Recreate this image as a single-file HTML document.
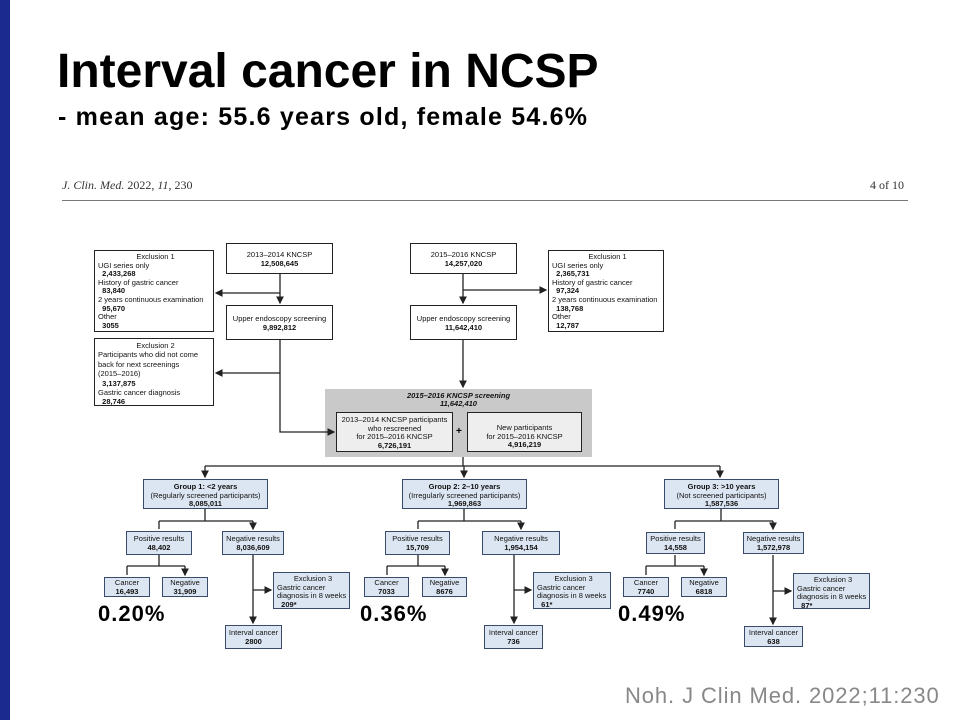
<!DOCTYPE html>
<html><head><meta charset="utf-8">
<style>
body{margin:0;width:960px;height:720px;background:#fff;position:relative;overflow:hidden;font-family:"Liberation Sans",sans-serif}
.bar{position:absolute;left:0;top:0;width:10px;height:720px;background:#1b2a8f}
.t{position:absolute;white-space:nowrap;color:#000}
.b{position:absolute;box-sizing:border-box;border:1.3px solid #222;background:#fff;font-size:7.5px;line-height:8.6px;color:#111;text-align:center;padding-top:2px}
.bl{background:#dce6f2;border-color:#3a4a6a}
.l{text-align:left;padding-left:3px}
.n{font-weight:bold}
.pct{position:absolute;font-weight:bold;font-size:22px;letter-spacing:1px;color:#000}
</style></head><body>
<div class="bar"></div>
<div class="t" style="left:57px;top:44px;font-size:48px;font-weight:bold;letter-spacing:0px">Interval cancer in NCSP</div>
<div class="t" style="left:58px;top:103px;font-size:25px;font-weight:bold;letter-spacing:1.2px">- mean age: 55.6 years old, female 54.6%</div>
<div class="t" style="left:62px;top:178px;font-family:'Liberation Serif',serif;font-size:12px;color:#333"><i>J. Clin. Med.</i> 2022, <i>11</i>, 230</div>
<div class="t" style="left:870px;top:178px;font-family:'Liberation Serif',serif;font-size:12px;color:#333">4 of 10</div>
<div style="position:absolute;left:62px;top:200px;width:846px;height:1px;background:#777"></div>

<div style="position:absolute;left:325px;top:389px;width:267px;height:68px;background:#c9c9c9"></div>

<svg width="960" height="720" style="position:absolute;left:0;top:0">
<defs><marker id="a" markerWidth="6" markerHeight="6" refX="5" refY="3" orient="auto"><path d="M0,0L6,3L0,6z" fill="#222"/></marker></defs>
<g stroke="#222" stroke-width="1.3" fill="none">
<path d="M280,274V303" marker-end="url(#a)"/><path d="M280,293H216" marker-end="url(#a)"/>
<path d="M280,340V432H334" marker-end="url(#a)"/><path d="M280,373H216" marker-end="url(#a)"/>
<path d="M463,274V303" marker-end="url(#a)"/><path d="M463,290H546" marker-end="url(#a)"/>
<path d="M463,340V387" marker-end="url(#a)"/>
<path d="M463,457V466"/><path d="M205,466H720"/>
<path d="M205,466V477" marker-end="url(#a)"/><path d="M464,466V477" marker-end="url(#a)"/><path d="M720,466V477" marker-end="url(#a)"/>
<path d="M205,509V521M159,521H253M159,521V529M253,521V529" marker-end="url(#a)"/>
<path d="M159,555V566M127,566H185M127,566V575M185,566V575" marker-end="url(#a)"/>
<path d="M253,555V623" marker-end="url(#a)"/><path d="M253,590H271" marker-end="url(#a)"/>
<path d="M464,509V521M418,521H521M418,521V529M521,521V529" marker-end="url(#a)"/>
<path d="M418,555V566M387,566H445M387,566V575M445,566V575" marker-end="url(#a)"/>
<path d="M514,555V623" marker-end="url(#a)"/><path d="M514,590H531" marker-end="url(#a)"/>
<path d="M721,509V521M675,521H773M675,521V529M773,521V529" marker-end="url(#a)"/>
<path d="M675,555V566M646,566H704M646,566V575M704,566V575" marker-end="url(#a)"/>
<path d="M773,555V624" marker-end="url(#a)"/><path d="M773,591H791" marker-end="url(#a)"/>
</g></svg>

<div class="b l" style="left:94px;top:250px;width:120px;height:82px"><div style="text-align:center">Exclusion 1</div>UGI series only<br><span class="n">&nbsp;&nbsp;2,433,268</span><br>History of gastric cancer<br><span class="n">&nbsp;&nbsp;83,840</span><br>2 years continuous examination<br><span class="n">&nbsp;&nbsp;95,670</span><br>Other<br><span class="n">&nbsp;&nbsp;3055</span></div>
<div class="b" style="left:226px;top:243px;width:107px;height:31px;padding-top:7px">2013–2014 KNCSP<br><span class="n">12,508,645</span></div>
<div class="b" style="left:226px;top:305px;width:107px;height:35px;padding-top:9px">Upper endoscopy screening<br><span class="n">9,892,812</span></div>
<div class="b l" style="left:94px;top:338px;width:120px;height:68px;line-height:9.4px"><div style="text-align:center">Exclusion 2</div>Participants who did not come<br>back for next screenings<br>(2015–2016)<br><span class="n">&nbsp;&nbsp;3,137,875</span><br>Gastric cancer diagnosis<br><span class="n">&nbsp;&nbsp;28,746</span></div>
<div class="b" style="left:410px;top:243px;width:107px;height:31px;padding-top:7px">2015–2016 KNCSP<br><span class="n">14,257,020</span></div>
<div class="b" style="left:410px;top:305px;width:107px;height:35px;padding-top:9px">Upper endoscopy screening<br><span class="n">11,642,410</span></div>
<div class="b l" style="left:548px;top:250px;width:116px;height:82px"><div style="text-align:center">Exclusion 1</div>UGI series only<br><span class="n">&nbsp;&nbsp;2,365,731</span><br>History of gastric cancer<br><span class="n">&nbsp;&nbsp;97,324</span><br>2 years continuous examination<br><span class="n">&nbsp;&nbsp;138,768</span><br>Other<br><span class="n">&nbsp;&nbsp;12,787</span></div>

<div class="t n" style="left:325px;top:392px;width:267px;text-align:center;font-size:7.5px;line-height:8.4px;font-style:italic;color:#111">2015–2016 KNCSP screening<br>11,642,410</div>
<div class="t" style="left:456px;top:426px;font-size:10px;font-weight:bold">+</div>
<div class="b" style="left:336px;top:412px;width:117px;height:40px;background:#eee;padding-top:3px">2013–2014 KNCSP participants<br>who rescreened<br>for 2015–2016 KNCSP<br><span class="n">6,726,191</span></div>
<div class="b" style="left:467px;top:412px;width:115px;height:40px;background:#eee;padding-top:11px">New participants<br>for 2015–2016 KNCSP<br><span class="n">4,916,219</span></div>

<div class="b bl" style="left:143px;top:479px;width:125px;height:30px;padding-top:3px"><span class="n">Group 1: &lt;2 years</span><br>(Regularly screened participants)<br><span class="n">8,085,011</span></div>
<div class="b bl" style="left:126px;top:531px;width:66px;height:24px;padding-top:3px">Positive results<br><span class="n">48,402</span></div>
<div class="b bl" style="left:222px;top:531px;width:62px;height:24px;padding-top:3px">Negative results<br><span class="n">8,036,609</span></div>
<div class="b bl" style="left:104px;top:577px;width:46px;height:20px;padding-top:1px">Cancer<br><span class="n">16,493</span></div>
<div class="b bl" style="left:162px;top:577px;width:46px;height:20px;padding-top:1px">Negative<br><span class="n">31,909</span></div>
<div class="b bl l" style="left:273px;top:572px;width:77px;height:37px"><div style="text-align:center">Exclusion 3</div>Gastric cancer<br>diagnosis in 8 weeks<br><span class="n">&nbsp;&nbsp;209*</span></div>
<div class="b bl" style="left:225px;top:625px;width:57px;height:24px;padding-top:3px">Interval cancer<br><span class="n">2800</span></div>

<div class="b bl" style="left:402px;top:479px;width:125px;height:30px;padding-top:3px"><span class="n">Group 2: 2–10 years</span><br>(Irregularly screened participants)<br><span class="n">1,969,863</span></div>
<div class="b bl" style="left:385px;top:531px;width:65px;height:24px;padding-top:3px">Positive results<br><span class="n">15,709</span></div>
<div class="b bl" style="left:482px;top:531px;width:78px;height:24px;padding-top:3px">Negative results<br><span class="n">1,954,154</span></div>
<div class="b bl" style="left:364px;top:577px;width:45px;height:20px;padding-top:1px">Cancer<br><span class="n">7033</span></div>
<div class="b bl" style="left:422px;top:577px;width:45px;height:20px;padding-top:1px">Negative<br><span class="n">8676</span></div>
<div class="b bl l" style="left:533px;top:572px;width:78px;height:37px"><div style="text-align:center">Exclusion 3</div>Gastric cancer<br>diagnosis in 8 weeks<br><span class="n">&nbsp;&nbsp;61*</span></div>
<div class="b bl" style="left:484px;top:625px;width:59px;height:24px;padding-top:3px">Interval cancer<br><span class="n">736</span></div>

<div class="b bl" style="left:664px;top:479px;width:115px;height:30px;padding-top:3px"><span class="n">Group 3: &gt;10 years</span><br>(Not screened participants)<br><span class="n">1,587,536</span></div>
<div class="b bl" style="left:646px;top:532px;width:59px;height:22px;padding-top:2px">Positive results<br><span class="n">14,558</span></div>
<div class="b bl" style="left:743px;top:532px;width:61px;height:22px;padding-top:2px">Negative results<br><span class="n">1,572,978</span></div>
<div class="b bl" style="left:623px;top:577px;width:46px;height:20px;padding-top:1px">Cancer<br><span class="n">7740</span></div>
<div class="b bl" style="left:681px;top:577px;width:46px;height:20px;padding-top:1px">Negative<br><span class="n">6818</span></div>
<div class="b bl l" style="left:793px;top:573px;width:77px;height:36px"><div style="text-align:center">Exclusion 3</div>Gastric cancer<br>diagnosis in 8 weeks<br><span class="n">&nbsp;&nbsp;87*</span></div>
<div class="b bl" style="left:744px;top:626px;width:59px;height:21px;padding-top:2px">Interval cancer<br><span class="n">638</span></div>

<div class="pct" style="left:98px;top:601px">0.20%</div>
<div class="pct" style="left:360px;top:601px">0.36%</div>
<div class="pct" style="left:618px;top:601px">0.49%</div>

<div class="t" style="left:625px;top:683px;font-size:22px;letter-spacing:0.9px;color:#888">Noh. J Clin Med. 2022;11:230</div>
</body></html>
